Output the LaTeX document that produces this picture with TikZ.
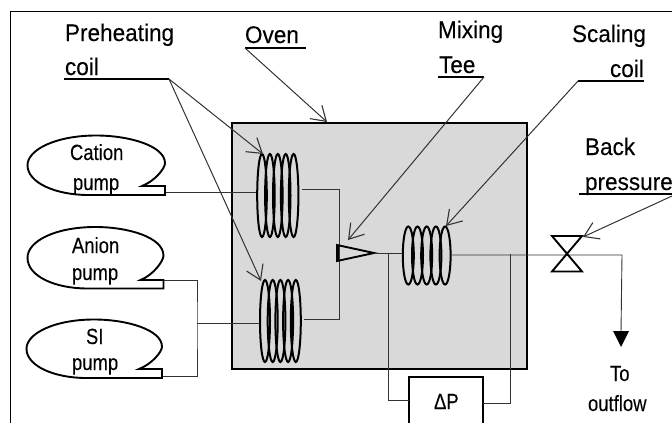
\documentclass[tikz,border=0pt]{standalone}
\usepackage{fontspec}
\newfontfamily\bigfam[FakeStretch=0.94,FakeBold=0.15]{Liberation Sans}
\newfontfamily\smallfam[FakeStretch=0.84,FakeBold=0.15]{Liberation Sans}
\usetikzlibrary{arrows.meta}
\definecolor{ovengray}{HTML}{D9D9D9}
\definecolor{ink}{HTML}{000000}
\definecolor{wire}{HTML}{333333}
\tikzset{
  biglabel/.style={anchor=base west,inner sep=0pt,outer sep=0pt,text=ink,font=\bigfam\fontsize{24}{26}\selectfont},
  smalllabel/.style={anchor=base west,inner sep=0pt,outer sep=0pt,text=ink,font=\smallfam\fontsize{22}{24}\selectfont},
  rule/.style={line width=1.9pt,draw=ink},
  leader/.style={line width=1pt,draw=wire,-{Straight Barb[length=14pt,width=18pt,line width=1.1pt]}},
  wireline/.style={line width=0.9pt,draw=wire},
  coilring/.style={line width=2pt,draw=ink},
  pumpline/.style={line width=1.9pt,draw=ink,fill=white},
  coilbox/.style={inner sep=0pt,outer sep=0pt,draw=none},
}
% center-x of first ring, spacing, center y, rx, ry
\newcommand{\coilrings}[5]{%
  \foreach \ringi in {0,...,4}{
    \draw[coilring] ({#1+\ringi*#2},#3) ellipse [x radius=#4,y radius=#5];
  }}
% left, top, right, bottom, tail top y
\newcommand{\pumpshape}[5]{%
  \pgfmathsetmacro{\pcx}{(#1+#3)/2}
  \pgfmathsetmacro{\pcy}{(#2+#4)/2}
  \pgfmathsetmacro{\qx}{#3-23}
  \draw[pumpline,line join=miter] (#3,#4) -- (#3,#5) -- (\qx,#5)
    .. controls ({#3-10},{#5-5}) and (#3,{\pcy+3}) .. (#3,{\pcy-2})
    .. controls (#3,{#2+10}) and ({\pcx+32},#2) .. (\pcx,#2)
    .. controls ({\pcx-40},#2) and (#1,{#2+14}) .. (#1,\pcy)
    .. controls (#1,{#4-12}) and ({\pcx-40},#4) .. ({\pcx-8},#4)
    -- cycle;}
\begin{document}
\begin{tikzpicture}[x=1pt,y=-1pt]
\useasboundingbox (0,0) rectangle (672,423);
\clip (0,0) rectangle (672,423);
% frame
\draw[line width=0.9pt,draw=ink] (10.5,423) -- (10.5,11.5) -- (672,11.5);
% oven
\node[draw=ink,line width=2pt,fill=ovengray,inner sep=0pt,outer sep=0pt,minimum width=295pt,minimum height=246pt] (oven) at (379.5,246) {};
% coils
\node[coilbox,minimum width=42pt,minimum height=85pt] (topcoil) at (277,195.5) {};
\node[coilbox,minimum width=43pt,minimum height=84pt] (botcoil) at (280.5,321) {};
\node[coilbox,minimum width=50pt,minimum height=59pt] (scalecoil) at (427,255.5) {};
% wires (beneath the rings)
\coordinate (catail) at (165,192);
\coordinate (antail) at (163,280);
\coordinate (sitail) at (162,376);
\coordinate (pumpjoin) at (197,323);
\draw[wireline] (catail) -- (256,192);
\draw[wireline] (antail) -| (pumpjoin) |- (sitail);
\draw[wireline] (pumpjoin) -- (259,323);
\coordinate (teejoin) at (339,189);
\coordinate (teejoinb) at (339,319);
\draw[wireline] (302,189) -- (teejoin) -- (teejoinb) -- (304,319);
\coilrings{262}{7.9}{195.5}{4.8}{41.5}
\coilrings{265}{7.7}{321}{5}{41}
\coilrings{408.3}{9.2}{255.5}{5.5}{29}
% pumps
\pumpshape{27.5}{135.5}{165}{195}{186}
\pumpshape{27.5}{227}{163.5}{288.5}{280}
\pumpshape{26.5}{319.5}{162}{378}{369}
% tee
\node[coordinate] (teetip) at (374,253) {};
\draw[line width=1.9pt,draw=ink,line join=miter] (337,245) -- (teetip) -- (337,261) -- cycle;
\draw[line width=2.6pt,draw=ink] (337.5,245) -- (337.5,261);
\draw[wireline] (teetip) -- (402,253);
% delta P
\node[draw=ink,fill=white,line width=1.9pt,inner sep=0pt,outer sep=0pt,minimum width=74pt,minimum height=60pt] (dp) at (446,407) {};
\coordinate (dpl) at (388,253);
\coordinate (dpr) at (510,254);
\draw[wireline] (dpl) -- (388,400.5) -- (409,400.5);
\draw[wireline] (dpr) -- (510,403) -- (483,403);
% outlet
\coordinate (outbend) at (622,255);
\coordinate (outend) at (621,333);
\draw[wireline] (452,255) -- (outbend) -- (outend);
\fill[ink] (613,331) -- (629,331) -- (621,347) -- cycle;
% valve
\draw[line width=1.9pt,draw=ink,line join=miter] (552,236) -- (582,236) -- (552,271.5) -- (582,271.5) -- cycle;
% labels
\node[biglabel] (lpre) at (65,41) {Preheating};
\node[biglabel] (lprecoil) at (65,75) {coil};
\node[biglabel] (loven) at (245,43) {Oven};
\node[biglabel] (lmix) at (438,38) {Mixing};
\node[biglabel] (ltee) at (439,73) {Tee};
\node[biglabel] (lscale) at (572,42) {Scaling};
\node[biglabel] (lscoil) at (610,77) {coil};
\node[biglabel] (lback) at (585,155) {Back};
\node[biglabel] (lpress) at (585,190) {pressure};
\node[smalllabel] (lcat) at (70,160) {Cation};
\node[smalllabel] (lcatp) at (73,190) {pump};
\node[smalllabel] (lan) at (72,253) {Anion};
\node[smalllabel] (lanp) at (72,280) {pump};
\node[smalllabel] (lsi) at (86,344) {SI};
\node[smalllabel] (lsip) at (72,370) {pump};
\node[smalllabel] (ldp) at (434,409) {ΔP};
\node[smalllabel] (lto) at (610,381) {To};
\node[smalllabel] (lout) at (588,411) {outflow};
% underlines and leaders
\coordinate (upre) at (169,79);
\coordinate (uoven) at (245,48);
\coordinate (umix) at (484,77);
\coordinate (uscale) at (578,81);
\coordinate (uback) at (672,196);
\draw[rule] (64,79) -- (upre);
\draw[rule] (uoven) -- (306,48);
\draw[rule] (438,77) -- (umix);
\draw[rule] (uscale) -- (644,81);
\draw[rule] (579,194) -- (672,194);
\draw[leader] (upre) -- (263,154);
\draw[leader] (upre) -- (261,281);
\draw[leader] (uoven) -- (327,122);
\draw[leader] (umix) -- (348,240);
\draw[leader] (uscale) -- (446,226);
\draw[leader] (uback) -- (583,237);
\end{tikzpicture}
\end{document}
